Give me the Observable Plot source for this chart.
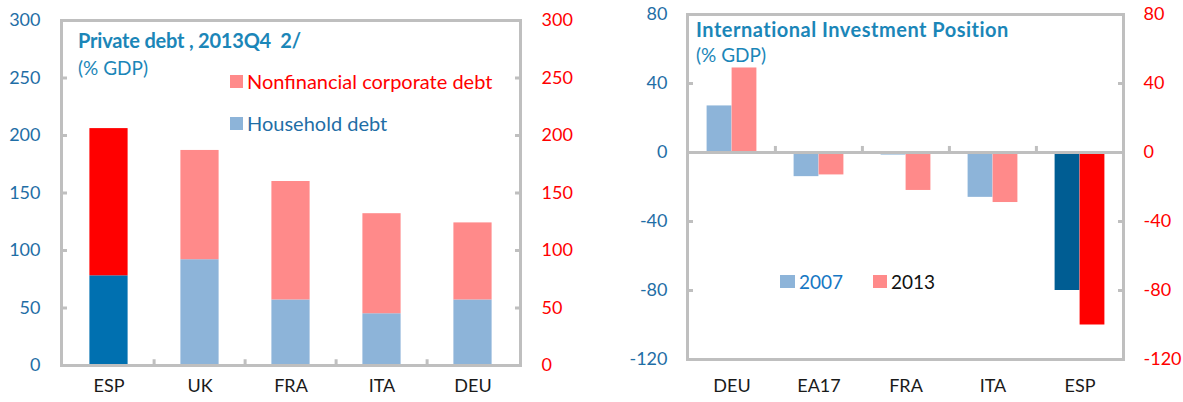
<!DOCTYPE html>
<html>
<head>
<meta charset="utf-8">
<script src="https://cdn.jsdelivr.net/npm/d3@7"></script>
<script src="https://cdn.jsdelivr.net/npm/@observablehq/plot@0.6"></script>
<style>
  html, body { margin: 0; padding: 0; background: #fff; }
  #wrap { position: relative; width: 1183px; height: 402px; overflow: hidden; font-family: Lato, sans-serif; background: #fff; }
  .panel { position: absolute; top: 0; }
  .ov { position: absolute; white-space: nowrap; line-height: 1; }
  .title { font-weight: 700; color: #1b86b8; font-size: 20px; letter-spacing: -0.2px; }
  .sub { color: #1b86b8; font-size: 19px; }
  .leg { font-size: 20px; display: flex; align-items: center; }
  .sw { display: inline-block; width: 13px; height: 13px; margin-right: 4px; }
</style>
</head>
<body>
<div id="wrap">
  <div class="panel" id="left" style="left:0px"></div>
  <div class="panel" id="right" style="left:600px"></div>
  <div class="ov title" style="left:78px; top:30px;">Private debt , 2013Q4&nbsp; 2/</div>
  <div class="ov sub" style="left:78px; top:58px;">(% GDP)</div>
  <div class="ov leg" style="left:230px; top:71px; color:#ff0000;"><span class="sw" style="background:#ff8a8a"></span>Nonfinancial corporate debt</div>
  <div class="ov leg" style="left:230px; top:113px; color:#1f6ea6;"><span class="sw" style="background:#8db4d9"></span>Household debt</div>
  <div class="ov title" style="left:696px; top:19px; letter-spacing:0.5px;">International Investment Position</div>
  <div class="ov sub" style="left:696px; top:45px;">(% GDP)</div>
  <div class="ov leg" style="left:780px; top:272px; font-size:19px; color:#1777c4;"><span class="sw" style="background:#8db4d9; width:15px"></span>2007</div>
  <div class="ov leg" style="left:873px; top:272px; font-size:19px; color:#111;"><span class="sw" style="background:#ff8a8a; width:14px"></span>2013</div>
</div>
<script>
// ---- Data: Private debt, 2013Q4 (% GDP)
const debtCountries = ["ESP", "UK", "FRA", "ITA", "DEU"];
const householdDebt = [78, 92, 57, 45, 57];
const corporateDebt = [128, 95, 103, 87, 67];
const debtTicks = [0, 50, 100, 150, 200, 250, 300];

// ---- Data: International Investment Position (% GDP)
const iipCountries = ["DEU", "EA17", "FRA", "ITA", "ESP"];
const iip2007 = [27, -14, -1.5, -26, -80];
const iip2013 = [49, -13, -22, -29, -100];
const iipTicks = [80, 40, 0, -40, -80, -120];

const highlight = "ESP";
const gray = "#bfbfbf";
const colHH = "#8db4d9", colHHhi = "#0070b0";
const colCorp = "#ff8a8a", colCorpHi = "#ff0000";
const col07 = "#8db4d9", col07hi = "#005d93";
const col13 = "#ff8a8a", col13hi = "#ff0000";
const blueText = "#1f6ea6", redText = "#ff0000", darkText = "#1a1a1a";
const fmt = d => String(d);

// ---------- Left chart ----------
const debtRows = debtCountries.flatMap((c, i) => [
  {country: c, type: "Household debt", value: householdDebt[i]},
  {country: c, type: "Nonfinancial corporate debt", value: corporateDebt[i]}
]);
const L = {width: 590, height: 402, ml: 61, mr: 70, mt: 20, mb: 37};
const bwL = (L.width - L.ml - L.mr) / debtCountries.length;

const left = Plot.plot({
  width: L.width, height: L.height,
  marginLeft: L.ml, marginRight: L.mr, marginTop: L.mt, marginBottom: L.mb,
  style: {fontFamily: "Lato, sans-serif", fontSize: "18px", background: "white", overflow: "visible"},
  x: {domain: debtCountries, padding: 0, axis: null},
  y: {domain: [0, 300], axis: null},
  color: {type: "identity"},
  marks: [
    Plot.barY(debtRows, {
      x: "country", y: "value",
      fill: d => d.type === "Household debt"
        ? (d.country === highlight ? colHHhi : colHH)
        : (d.country === highlight ? colCorpHi : colCorp),
      insetLeft: (bwL - 39) / 2, insetRight: (bwL - 39) / 2
    }),
    Plot.frame({stroke: gray, strokeWidth: 3}),
    Plot.axisY(debtTicks, {anchor: "left", tickSize: -6, fill: "none", stroke: gray, strokeWidth: 3, label: null}),
    Plot.axisY(debtTicks, {anchor: "right", tickSize: -6, fill: "none", stroke: gray, strokeWidth: 3, label: null}),
    Plot.ruleX(debtCountries.slice(1), {x: d => d, y1: 0, y2: 5, dx: -bwL / 2, stroke: gray, strokeWidth: 3}),
    Plot.axisY(debtTicks, {anchor: "left", tickSize: 0, tickPadding: 21, fill: blueText, label: null, tickFormat: fmt}),
    Plot.axisY(debtTicks, {anchor: "right", tickSize: 0, tickPadding: 21, fill: redText, label: null, tickFormat: fmt}),
    Plot.axisX({anchor: "bottom", tickSize: 0, tickPadding: 14, fill: darkText, label: null})
  ]
});
document.getElementById("left").appendChild(left);

// ---------- Right chart ----------
const iipRows = iipCountries.flatMap((c, i) => [
  {country: c, year: "2007", value: iip2007[i]},
  {country: c, year: "2013", value: iip2013[i]}
]);
const R = {width: 583, height: 402, ml: 87, mr: 60, mt: 14, mb: 43};
const bwR = (R.width - R.ml - R.mr) / iipCountries.length;
const barW = 25;

const right = Plot.plot({
  width: R.width, height: R.height,
  marginLeft: R.ml, marginRight: R.mr, marginTop: R.mt, marginBottom: R.mb,
  style: {fontFamily: "Lato, sans-serif", fontSize: "18px", background: "white", overflow: "visible"},
  x: {domain: iipCountries, padding: 0, axis: null},
  y: {domain: [-120, 80], axis: null},
  color: {type: "identity"},
  marks: [
    Plot.barY(iipRows.filter(d => d.year === "2007"), {
      x: "country", y1: 0, y2: "value",
      fill: d => d.country === highlight ? col07hi : col07,
      insetLeft: bwR / 2 - barW, insetRight: bwR / 2
    }),
    Plot.barY(iipRows.filter(d => d.year === "2013"), {
      x: "country", y1: 0, y2: "value",
      fill: d => d.country === highlight ? col13hi : col13,
      insetLeft: bwR / 2, insetRight: bwR / 2 - barW
    }),
    Plot.frame({stroke: gray, strokeWidth: 3}),
    Plot.ruleY([0], {stroke: gray, strokeWidth: 3}),
    Plot.axisY(iipTicks, {anchor: "left", tickSize: -6, fill: "none", stroke: gray, strokeWidth: 3, label: null}),
    Plot.axisY(iipTicks, {anchor: "right", tickSize: -6, fill: "none", stroke: gray, strokeWidth: 3, label: null}),
    Plot.ruleX(iipCountries.slice(1), {x: d => d, y1: 0, y2: 3.5, dx: -bwR / 2, stroke: gray, strokeWidth: 3}),
    Plot.axisY(iipTicks, {anchor: "left", tickSize: 0, tickPadding: 20, fill: blueText, label: null, tickFormat: fmt}),
    Plot.axisY(iipTicks, {anchor: "right", tickSize: 0, tickPadding: 20, fill: redText, label: null, tickFormat: fmt}),
    Plot.axisX({anchor: "bottom", tickSize: 0, tickPadding: 20, fill: darkText, label: null})
  ]
});
document.getElementById("right").appendChild(right);
</script>
</body>
</html>
